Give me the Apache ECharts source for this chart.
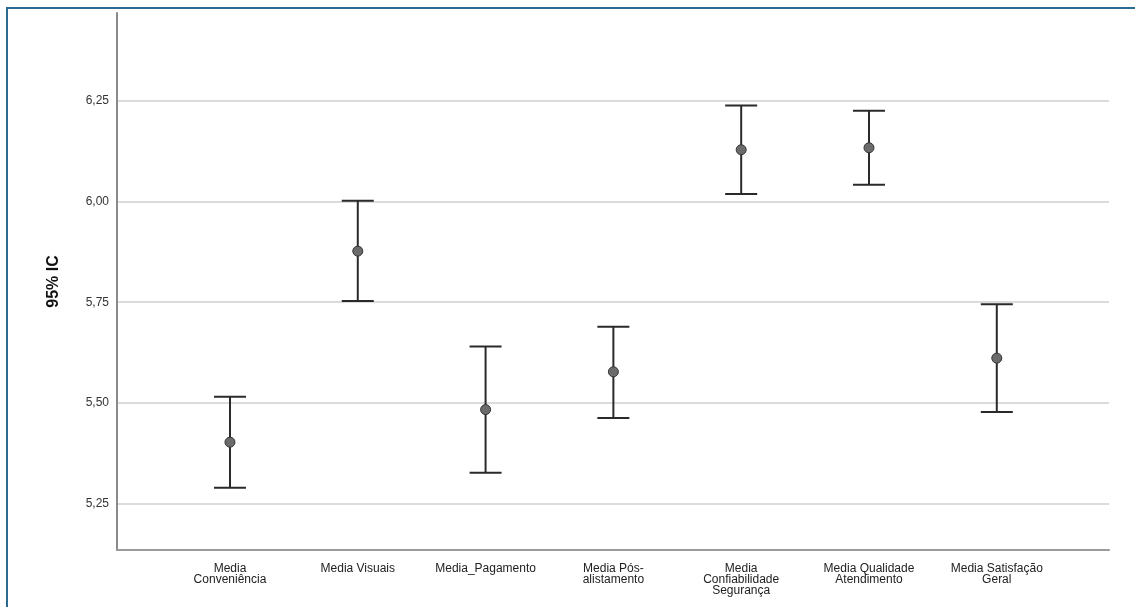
<!DOCTYPE html>
<html>
<head>
<meta charset="utf-8">
<script src="https://cdn.jsdelivr.net/npm/echarts@6/dist/echarts.min.js"></script>
<style>
html,body{margin:0;padding:0;background:#fff;}
#c{position:absolute;left:0;top:0;width:1135px;height:607px;}
#frame{position:absolute;left:6px;top:7px;width:1129px;height:600px;border-top:2px solid #2b6b93;border-left:2px solid #2b6b93;pointer-events:none;}
</style>
</head>
<body>
<div id="c"></div>
<div id="frame"></div>
<script>
const categories = ['Media\nConveniência','Media Visuais','Media_Pagamento','Media Pós-\nalistamento','Media\nConfiabilidade\nSegurança','Media Qualidade\nAtendimento','Media Satisfação\nGeral'];
const means = [5.402, 5.877, 5.483, 5.577, 6.129, 6.134, 5.611];
const lower = [5.289, 5.753, 5.326, 5.462, 6.019, 6.042, 5.477];
const upper = [5.515, 6.002, 5.640, 5.689, 6.239, 6.226, 5.745];
const yTicks = [5.25, 5.50, 5.75, 6.00, 6.25];

const chart = echarts.init(document.getElementById('c'));
const idx = categories.map((c,i)=>i);
chart.setOption({
  animation:false,
  grid:{left:117, top:13, right:26, bottom:57},
  xAxis:{
    type:'value', min:-0.884, max:6.878,
    axisLine:{show:true, onZero:false, lineStyle:{color:'#9a9a9a', width:2}},
    axisTick:{show:false, customValues:idx},
    splitLine:{show:false},
    axisLabel:{customValues:idx, formatter:v=>categories[Math.round(v)]||'', color:'#222', fontFamily:'Liberation Sans, Arial, sans-serif', fontSize:12, lineHeight:11, margin:13}
  },
  yAxis:{
    type:'value', min:5.134, max:6.469,
    name:'95% IC', nameLocation:'middle', nameGap:55,
    nameTextStyle:{fontFamily:'Liberation Sans, Arial, sans-serif', fontSize:16, fontWeight:'bold', color:'#111'},
    axisLine:{show:true, onZero:false, lineStyle:{color:'#8a8a8a', width:2}},
    axisTick:{show:false, customValues:yTicks},
    axisLabel:{customValues:yTicks, formatter:v=>v.toFixed(2).replace('.',','), color:'#333', fontFamily:'Liberation Sans, Arial, sans-serif', fontSize:12, margin:8},
    splitLine:{show:true, lineStyle:{color:'#cfcfcf', width:1.5}}
  },
  series:[
    {
      type:'custom',
      data: idx.map(i=>[i, lower[i], upper[i]]),
      renderItem:function(params, api){
        const x = api.value(0);
        const lo = api.coord([x, api.value(1)]);
        const hi = api.coord([x, api.value(2)]);
        const hw = 16;
        const st = {stroke:'#2a2a2a', lineWidth:2};
        return {type:'group', children:[
          {type:'line', shape:{x1:lo[0], y1:lo[1], x2:hi[0], y2:hi[1]}, style:st},
          {type:'line', shape:{x1:lo[0]-hw, y1:lo[1], x2:lo[0]+hw, y2:lo[1]}, style:st},
          {type:'line', shape:{x1:hi[0]-hw, y1:hi[1], x2:hi[0]+hw, y2:hi[1]}, style:st}
        ]};
      },
      z:2
    },
    {
      type:'scatter',
      data: idx.map(i=>[i, means[i]]),
      symbol:'circle', symbolSize:10,
      itemStyle:{color:'#6b6b6b', borderColor:'#333', borderWidth:1, opacity:1},
      z:3
    }
  ]
});
</script>
</body>
</html>
